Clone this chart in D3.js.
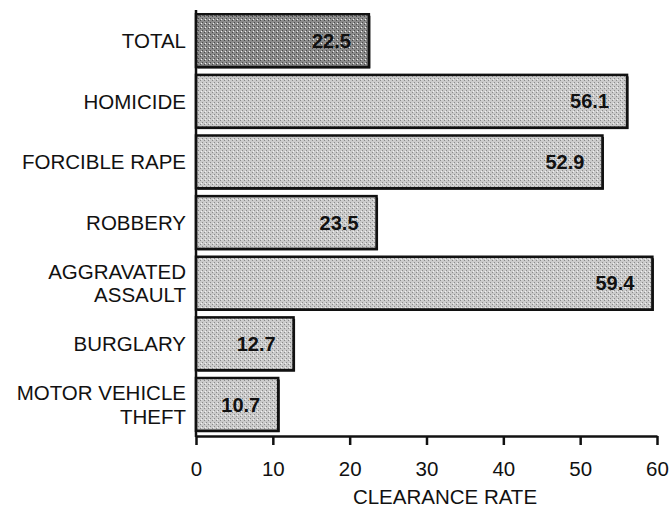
<!DOCTYPE html>
<html>
<head>
  <meta charset="utf-8">
  <title>Clearance Rate</title>
  <script src="https://d3js.org/d3.v7.min.js"></script>
  <style>
    body { margin: 0; background: #fff; }
    svg { display: block; font-family: "Liberation Sans", Arial, sans-serif; }
    .cat text { font-size: 20.5px; fill: #111; }
    .x-axis text { font-size: 20.5px; fill: #111; }
    .val { font-size: 20px; font-weight: 700; fill: #111; }
  </style>
</head>
<body>
  <div id="chart"></div>
  <script>
    // categories (two-line labels split with |) and values
    const categories = ['TOTAL', 'HOMICIDE', 'FORCIBLE RAPE', 'ROBBERY', 'AGGRAVATED|ASSAULT', 'BURGLARY', 'MOTOR VEHICLE|THEFT'];
    const rates = [22.5, 56.1, 52.9, 23.5, 59.4, 12.7, 10.7];
    const xTicks = [0, 10, 20, 30, 40, 50, 60];
    const xTitle = 'CLEARANCE RATE';

    const W = 672, H = 510;
    const svg = d3.select('#chart').append('svg')
      .attr('width', W).attr('height', H);

    // stipple patterns so bars look like the printed screen
    const defs = svg.append('defs');
    function stipple(id, base, dot) {
      const p = defs.append('pattern')
        .attr('id', id).attr('width', 4).attr('height', 4)
        .attr('patternUnits', 'userSpaceOnUse');
      p.append('rect').attr('width', 4).attr('height', 4).attr('fill', base);
      p.append('rect').attr('x', 0).attr('y', 0).attr('width', 1).attr('height', 1).attr('fill', dot);
      p.append('rect').attr('x', 2).attr('y', 2).attr('width', 1).attr('height', 1).attr('fill', dot);
      p.append('rect').attr('x', 1).attr('y', 3).attr('width', 1).attr('height', 1).attr('fill', '#f2f2f2');
    }
    stipple('light', '#cbcbcb', '#8a8a8a');
    stipple('dark', '#8c8c8c', '#4a4a4a');

    const x = d3.scaleLinear().domain([0, 60]).range([196, 657]);
    const y = d3.scaleBand().domain(categories).range([10, 435])
      .paddingInner(0.13).paddingOuter(0.07);

    // bars with a slight drop shadow
    const bars = svg.append('g');
    categories.forEach((c, i) => {
      bars.append('rect')
        .attr('x', x(0) + 1.5).attr('y', y(c) + 1.5)
        .attr('width', x(rates[i]) - x(0)).attr('height', y.bandwidth())
        .attr('fill', '#111');
      bars.append('rect')
        .attr('x', x(0)).attr('y', y(c))
        .attr('width', x(rates[i]) - x(0)).attr('height', y.bandwidth())
        .attr('fill', i === 0 ? 'url(#dark)' : 'url(#light)')
        .attr('stroke', '#111').attr('stroke-width', 2.5);
      svg.append('text')
        .attr('class', 'val')
        .attr('x', x(rates[i]) - 18)
        .attr('y', y(c) + y.bandwidth() / 2)
        .attr('dy', '0.36em')
        .attr('text-anchor', 'end')
        .text(rates[i].toFixed(1));
    });

    // category labels
    const cat = svg.append('g').attr('class', 'cat');
    categories.forEach(c => {
      const lines = c.split('|');
      const cy = y(c) + y.bandwidth() / 2;
      const t = cat.append('text').attr('text-anchor', 'end');
      lines.forEach((ln, k) => {
        t.append('tspan')
          .attr('x', 186)
          .attr('y', cy + (k - (lines.length - 1) / 2) * 23.5)
          .attr('dy', '0.36em')
          .text(ln);
      });
    });

    // y axis line
    svg.append('line')
      .attr('x1', x(0)).attr('x2', x(0))
      .attr('y1', 10).attr('y2', 437)
      .attr('stroke', '#111').attr('stroke-width', 2.5);

    // x axis
    const xAxis = svg.append('g')
      .attr('class', 'x-axis')
      .attr('transform', 'translate(0,436)')
      .call(d3.axisBottom(x).tickValues(xTicks).tickSize(9).tickPadding(16).tickSizeOuter(0));
    xAxis.select('.domain').attr('stroke', '#111').attr('stroke-width', 2.5);
    xAxis.selectAll('.tick line').attr('stroke', '#111').attr('stroke-width', 2.5);
    xAxis.selectAll('.tick text').attr('fill', '#111');

    svg.append('text')
      .attr('x', 445).attr('y', 504)
      .attr('text-anchor', 'middle')
      .attr('font-size', '20.5px').attr('fill', '#111')
      .text(xTitle);
  </script>
</body>
</html>
